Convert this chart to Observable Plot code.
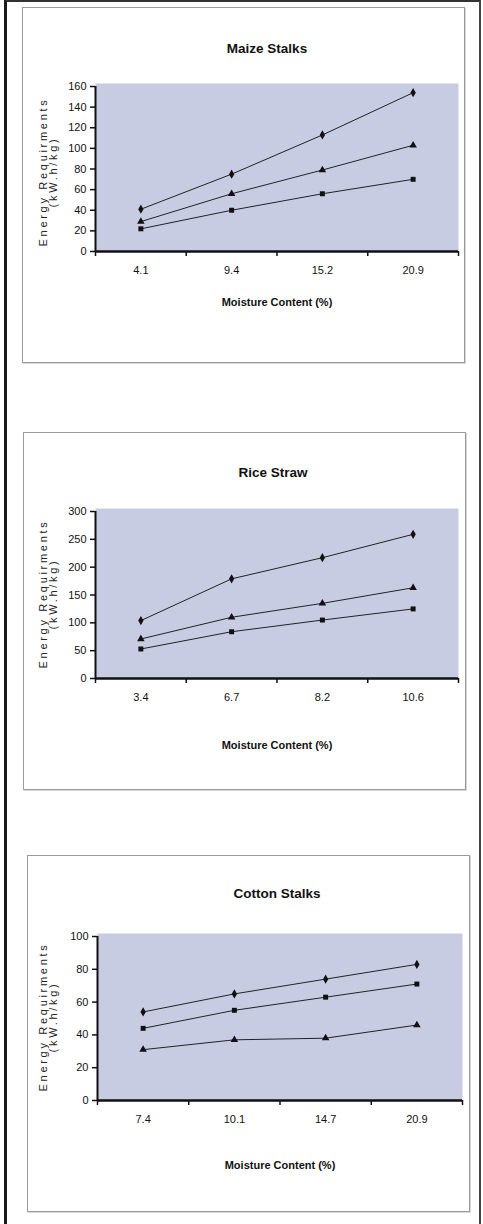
<!DOCTYPE html>
<html><head><meta charset="utf-8">
<script src="https://cdn.jsdelivr.net/npm/d3@7"></script>
<script src="https://cdn.jsdelivr.net/npm/@observablehq/plot@0.6"></script>
<style>
body{margin:0;background:#fff;}
#page{position:relative;width:483px;height:1224px;overflow:hidden;background:#fff;font-family:"Liberation Sans",Arial,sans-serif;color:#111;}
.frame{position:absolute;left:4px;top:0;width:477px;height:1240px;border-left:3px solid #1a1a1a;border-top:2px solid #333;border-right:2px solid #444;box-sizing:border-box;}
.box{position:absolute;border:1px solid #9a9a9a;box-shadow:1px 1px 0 #d8d8d8;box-sizing:border-box;}
.title{position:absolute;transform:translate(-50%,-50%);font-weight:bold;font-size:13.5px;white-space:nowrap;}
.xlab{position:absolute;transform:translate(-50%,-50%);font-weight:bold;font-size:11px;white-space:nowrap;}
.ylab{position:absolute;transform:translate(-50%,-50%) rotate(-90deg);font-family:"Liberation Sans",Arial,sans-serif;font-size:11px;text-align:center;line-height:10px;white-space:nowrap;letter-spacing:2.7px;color:#222;}
svg.chart{position:absolute;left:0;}
</style>
</head><body>
<div id="page"><div class="frame"></div></div>
<script>
// ---- data ----
const maizeMoisture = ["4.1", "9.4", "15.2", "20.9"];
const maizeS1 = [41, 75, 113, 154];
const maizeS2 = [29, 56, 79, 103];
const maizeS3 = [22, 40, 56, 70];

const riceMoisture = ["3.4", "6.7", "8.2", "10.6"];
const riceS1 = [104, 179, 217, 259];
const riceS2 = [71, 110, 135, 163];
const riceS3 = [53, 84, 105, 125];

const cottonMoisture = ["7.4", "10.1", "14.7", "20.9"];
const cottonS1 = [54, 65, 74, 83];
const cottonS2 = [44, 55, 63, 71];
const cottonS3 = [31, 37, 38, 46];

const titles = ["Maize Stalks", "Rice Straw", "Cotton Stalks"];
const xLabel = "Moisture Content (%)";
const yLabel1 = "Energy Requirments";
const yLabel2 = "(kW.h/kg)";

// ---- layout ----
const panels = [
  {title: titles[0], cats: maizeMoisture, series: [maizeS1, maizeS2, maizeS3], symbols: ["diamond", "triangle", "square"],
   yMax: 160, yStep: 20, top: 0, ml: 95, mr: 25, mt: 86, mb: 129,
   box: [22, 7, 465, 363], tX: 267, tY: 48, xlX: 277, xlY: 302, ylX: 48, ylY: 172},
  {title: titles[1], cats: riceMoisture, series: [riceS1, riceS2, riceS3], symbols: ["diamond", "triangle", "square"],
   yMax: 300, yStep: 50, top: 420, ml: 95, mr: 25, mt: 91, mb: 122,
   box: [23, 432, 466, 790], tX: 273, tY: 472, xlX: 277, xlY: 745, ylX: 48, ylY: 594},
  {title: titles[2], cats: cottonMoisture, series: [cottonS1, cottonS2, cottonS3], symbols: ["diamond", "square", "triangle"],
   yMax: 100, yStep: 20, top: 840, ml: 97, mr: 21, mt: 96, mb: 120,
   box: [27, 855, 470, 1212], tX: 277, tY: 893, xlX: 280, xlY: 1165, ylX: 48, ylY: 1017}
];

const page = document.getElementById("page");
const bg = "#c8cce2";
const font = '"Liberation Sans",Arial,sans-serif';

function addDiv(cls, text, x, y) {
  const d = document.createElement("div");
  d.className = cls;
  d.style.left = x + "px";
  d.style.top = y + "px";
  if (Array.isArray(text)) d.innerHTML = text.join("<br>"); else d.textContent = text;
  page.appendChild(d);
  return d;
}

for (const p of panels) {
  const b = document.createElement("div");
  b.className = "box";
  b.style.left = p.box[0] + "px"; b.style.top = p.box[1] + "px";
  b.style.width = (p.box[2] - p.box[0]) + "px"; b.style.height = (p.box[3] - p.box[1]) + "px";
  page.appendChild(b);

  const rows = p.series.flatMap((vals, s) => vals.map((v, i) => ({i: i + 1, v, s})));
  const n = p.cats.length;
  const chart = Plot.plot({
    width: 483, height: 380,
    marginLeft: p.ml, marginRight: p.mr, marginTop: p.mt, marginBottom: p.mb,
    style: {background: "transparent", overflow: "visible", fontFamily: font, fontSize: "11px", color: "#111"},
    x: {type: "linear", domain: [0.5, n + 0.5], axis: null},
    y: {domain: [0, p.yMax], axis: null},
    marks: [
      Plot.frame({fill: bg, stroke: "none", insetTop: -3}),
      Plot.axisY({ticks: d3.range(0, p.yMax + 1, p.yStep), tickSize: 5, tickPadding: 4, strokeWidth: 1.5, label: null, fontSize: 11}),
      Plot.axisX({ticks: d3.range(1, n + 1), tickFormat: i => p.cats[i - 1], tickSize: 0, tickPadding: 15, label: null, fontSize: 11}),
      Plot.axisX({ticks: d3.range(0, n + 1).map(k => k + 0.5), tickFormat: () => "", tickSize: 5, strokeWidth: 1.5, label: null}),
      Plot.ruleX([0.5], {stroke: "#111", strokeWidth: 2}),
      Plot.ruleY([0], {stroke: "#111", strokeWidth: 2.5}),
      Plot.line(rows, {x: "i", y: "v", z: "s", stroke: "#222", strokeWidth: 1}),
      ...p.symbols.map((sym, s) => Plot.dot(rows.filter(d => d.s === s), {x: "i", y: "v", symbol: sym, fill: "#111", stroke: "none", r: 2.8}))
    ]
  });
  chart.classList.add("chart");
  chart.style.top = p.top + "px";
  page.appendChild(chart);

  addDiv("title", p.title, p.tX, p.tY);
  addDiv("xlab", xLabel, p.xlX, p.xlY);
  addDiv("ylab", [yLabel1, yLabel2], p.ylX, p.ylY);
}
</script>
</body></html>
